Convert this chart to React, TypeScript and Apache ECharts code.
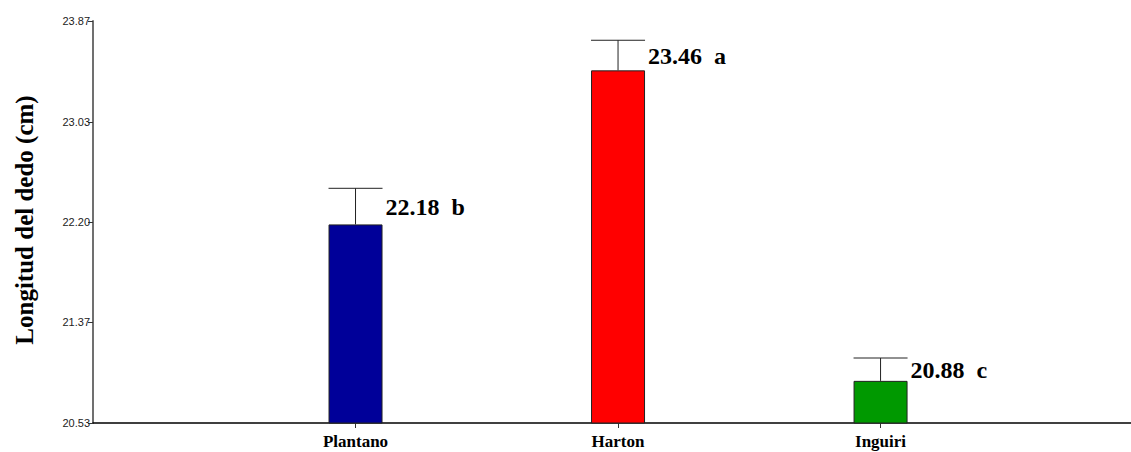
import React, { useEffect, useRef } from "react";
import * as echarts from "echarts";

const categories = ["Plantano", "Harton", "Inguiri"];
const categoryPositions = [1, 2, 3];
const means = [22.18, 23.46, 20.88];
const errors = [0.3, 0.25, 0.19];
const letters = ["b", "a", "c"];
const barColors = ["#000099", "#FF0000", "#009900"];
const yTicks = [20.53, 21.37, 22.2, 23.03, 23.87];
const yTitle = "Longitud del dedo (cm)";

const BAR_W = 54;
const SERIF = '"Liberation Serif", "Times New Roman", serif';

export default function App() {
  const ref = useRef<HTMLDivElement>(null);
  useEffect(() => {
    if (!ref.current) return;
    const chart = echarts.init(ref.current, undefined, { renderer: "svg" });
    const barData = means.map((m, i) => ({
      value: [categoryPositions[i], m],
      itemStyle: { color: barColors[i], borderColor: "#222", borderWidth: 1 },
    }));
    const errData = means.map((m, i) => [categoryPositions[i], m, m + errors[i], i]);
    chart.setOption({
      animation: false,
      grid: { left: 93, right: 0, top: 21, bottom: 29, containLabel: false },
      xAxis: {
        type: "value",
        min: 0,
        max: 3.954,
        axisLine: { show: true, lineStyle: { color: "#000", width: 1.5 } },
        axisTick: { show: true, customValues: categoryPositions, length: 5, lineStyle: { color: "#333" } },
        axisLabel: {
          customValues: categoryPositions,
          formatter: (v: number) => categories[categoryPositions.indexOf(Math.round(v))] ?? "",
          fontFamily: SERIF,
          fontWeight: "bold",
          fontSize: 17,
          color: "#000",
          margin: 10,
        },
        splitLine: { show: false },
      },
      yAxis: {
        type: "value",
        min: yTicks[0],
        max: yTicks[yTicks.length - 1],
        axisLine: { show: true, lineStyle: { color: "#707070", width: 2 } },
        axisTick: { show: true, customValues: yTicks, length: 5, lineStyle: { color: "#333" } },
        axisLabel: {
          customValues: yTicks,
          formatter: (v: number) => v.toFixed(2),
          fontFamily: "Arial, 'Liberation Sans', sans-serif",
          fontSize: 11,
          color: "#222",
          margin: 3,
        },
        splitLine: { show: false },
      },
      graphic: [
        {
          type: "text",
          x: 24,
          y: 220,
          rotation: Math.PI / 2,
          style: {
            text: yTitle,
            font: `bold 25px ${SERIF}`,
            fill: "#000",
            align: "center",
            verticalAlign: "middle",
          },
        },
      ],
      series: [
        {
          type: "bar",
          data: barData,
          barWidth: BAR_W,
          clip: true,
        },
        {
          type: "custom",
          data: errData,
          clip: false,
          renderItem: (params: any, api: any) => {
            const x = api.value(0);
            const top = api.coord([x, api.value(1)]);
            const errTop = api.coord([x, api.value(2)]);
            const idx = api.value(3);
            const half = BAR_W / 2;
            const lineStyle = { stroke: "#222", lineWidth: 1 };
            return {
              type: "group",
              children: [
                {
                  type: "line",
                  shape: { x1: top[0], y1: top[1], x2: errTop[0], y2: errTop[1] },
                  style: lineStyle,
                },
                {
                  type: "line",
                  shape: { x1: errTop[0] - half, y1: errTop[1], x2: errTop[0] + half, y2: errTop[1] },
                  style: lineStyle,
                },
                {
                  type: "text",
                  x: top[0] + half + 3,
                  y: (top[1] + errTop[1]) / 2 + 1,
                  style: {
                    text: `${means[idx].toFixed(2)}  ${letters[idx]}`,
                    font: `bold 24px ${SERIF}`,
                    fill: "#000",
                    align: "left",
                    verticalAlign: "middle",
                  },
                },
              ],
            };
          },
        },
      ],
    });
    return () => chart.dispose();
  }, []);
  return (
    <div
      ref={ref}
      style={{ position: "fixed", left: 0, top: 0, width: 1131, height: 452, background: "#fff" }}
    />
  );
}
